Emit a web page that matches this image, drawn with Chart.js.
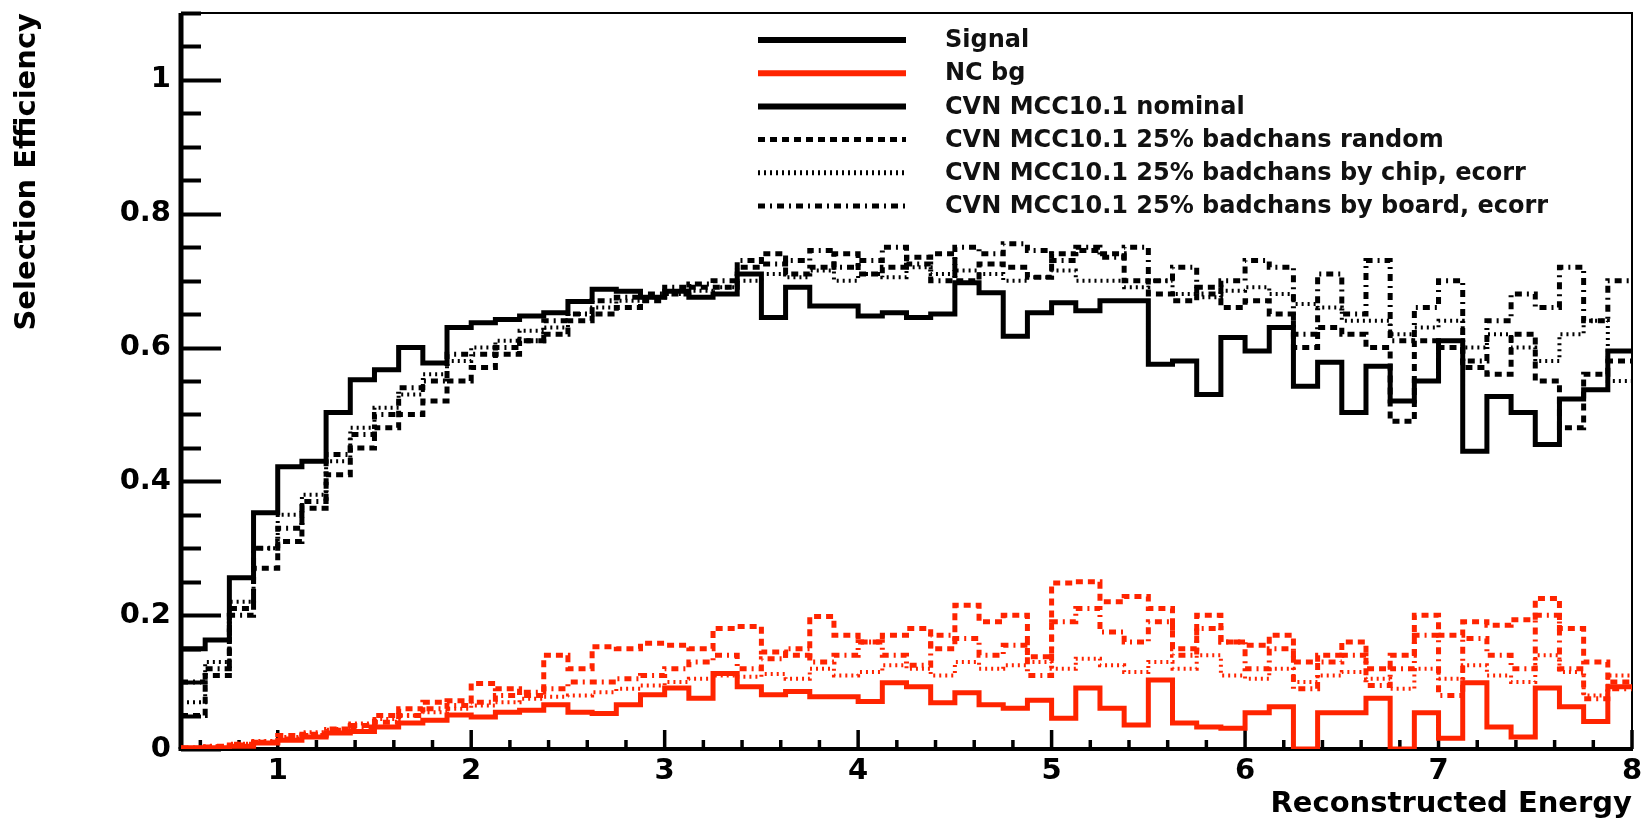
<!DOCTYPE html>
<html>
<head>
<meta charset="utf-8">
<title>Selection Efficiency</title>
<script src="https://cdn.jsdelivr.net/npm/chart.js@4.4.1/dist/chart.umd.min.js"></script>
<style>
    html, body { margin: 0; padding: 0; background: #fff; }
    #chart { display: block; }
</style>
</head>
<body>
<canvas id="chart" width="1648" height="825"></canvas>
<script>
// Binning of the histograms (reconstructed energy)
const binStart = 0.5;
const binWidth = 0.125;

// Axis ticks
const xTicks = [1, 2, 3, 4, 5, 6, 7, 8];
const yTicks = [0, 0.2, 0.4, 0.6, 0.8, 1];
const yTickLabels = ['0', '0.2', '0.4', '0.6', '0.8', '1'];
const xMinorStep = 0.2;
const yMinorStep = 0.05;

// Signal efficiency, one value per bin
const sigNominal = [
    0.150, 0.163, 0.256, 0.353, 0.422, 0.430, 0.503, 0.552, 0.567, 0.600,
    0.577, 0.630, 0.637, 0.642, 0.647, 0.652, 0.669, 0.687, 0.684, 0.675,
    0.684, 0.675, 0.680, 0.710, 0.645, 0.690, 0.662, 0.662, 0.647, 0.652,
    0.645, 0.650, 0.697, 0.682, 0.617, 0.652, 0.667, 0.655, 0.670, 0.670,
    0.575, 0.580, 0.530, 0.615, 0.595, 0.630, 0.542, 0.578, 0.503, 0.572,
    0.520, 0.550, 0.610, 0.445, 0.527, 0.503, 0.455, 0.523, 0.537, 0.595
];
const sigRandom = [
    0.050, 0.110, 0.210, 0.270, 0.310, 0.360, 0.410, 0.450, 0.480, 0.500,
    0.520, 0.550, 0.570, 0.590, 0.610, 0.620, 0.640, 0.650, 0.660, 0.670,
    0.680, 0.690, 0.690, 0.720, 0.740, 0.710, 0.720, 0.740, 0.710, 0.720,
    0.735, 0.740, 0.700, 0.725, 0.720, 0.705, 0.740, 0.745, 0.740, 0.700,
    0.680, 0.670, 0.690, 0.660, 0.670, 0.650, 0.600, 0.630, 0.620, 0.600,
    0.490, 0.610, 0.600, 0.570, 0.560, 0.620, 0.550, 0.480, 0.560, 0.580
];
const sigChip = [
    0.070, 0.130, 0.220, 0.300, 0.350, 0.380, 0.430, 0.480, 0.510, 0.530,
    0.560, 0.580, 0.600, 0.610, 0.625, 0.630, 0.650, 0.660, 0.670, 0.675,
    0.680, 0.685, 0.690, 0.700, 0.710, 0.705, 0.715, 0.700, 0.710, 0.705,
    0.720, 0.710, 0.715, 0.710, 0.700, 0.705, 0.715, 0.700, 0.700, 0.690,
    0.700, 0.680, 0.675, 0.685, 0.690, 0.680, 0.665, 0.660, 0.640, 0.640,
    0.620, 0.630, 0.640, 0.600, 0.620, 0.600, 0.580, 0.620, 0.640, 0.550
];
const sigBoard = [
    0.100, 0.120, 0.200, 0.300, 0.330, 0.370, 0.440, 0.470, 0.500, 0.540,
    0.550, 0.590, 0.590, 0.600, 0.610, 0.640, 0.650, 0.670, 0.675, 0.680,
    0.690, 0.695, 0.700, 0.730, 0.725, 0.730, 0.745, 0.720, 0.730, 0.750,
    0.725, 0.700, 0.750, 0.740, 0.755, 0.745, 0.730, 0.750, 0.735, 0.750,
    0.700, 0.720, 0.680, 0.700, 0.730, 0.720, 0.620, 0.710, 0.650, 0.730,
    0.610, 0.660, 0.700, 0.580, 0.640, 0.680, 0.660, 0.720, 0.640, 0.700
];

// NC background efficiency, one value per bin
const ncNominal = [
    0.002, 0.002, 0.004, 0.009, 0.013, 0.018, 0.024, 0.026, 0.033, 0.039,
    0.043, 0.051, 0.048, 0.055, 0.058, 0.066, 0.055, 0.053, 0.066, 0.081,
    0.091, 0.076, 0.113, 0.093, 0.081, 0.086, 0.078, 0.078, 0.071, 0.099,
    0.093, 0.069, 0.084, 0.066, 0.061, 0.073, 0.046, 0.091, 0.061, 0.036,
    0.103, 0.039, 0.033, 0.031, 0.054, 0.063, 0.000, 0.054, 0.054, 0.076,
    0.000, 0.054, 0.016, 0.099, 0.033, 0.018, 0.091, 0.063, 0.041, 0.093
];
const ncRandom = [
    0.001, 0.003, 0.006, 0.010, 0.020, 0.022, 0.030, 0.035, 0.050, 0.060,
    0.070, 0.072, 0.098, 0.090, 0.080, 0.140, 0.120, 0.153, 0.150, 0.158,
    0.155, 0.150, 0.180, 0.183, 0.145, 0.140, 0.198, 0.170, 0.160, 0.170,
    0.180, 0.150, 0.215, 0.190, 0.200, 0.138, 0.248, 0.250, 0.220, 0.228,
    0.210, 0.150, 0.200, 0.160, 0.155, 0.170, 0.130, 0.140, 0.160, 0.120,
    0.140, 0.200, 0.170, 0.190, 0.185, 0.193, 0.225, 0.180, 0.130, 0.100
];
const ncChip = [
    0.002, 0.004, 0.008, 0.012, 0.018, 0.025, 0.030, 0.038, 0.045, 0.050,
    0.055, 0.060, 0.065, 0.070, 0.075, 0.078, 0.080, 0.085, 0.090, 0.095,
    0.100, 0.105, 0.110, 0.108, 0.112, 0.105, 0.120, 0.110, 0.115, 0.125,
    0.120, 0.110, 0.130, 0.120, 0.125, 0.130, 0.120, 0.135, 0.125, 0.115,
    0.130, 0.120, 0.140, 0.110, 0.105, 0.120, 0.100, 0.110, 0.115, 0.105,
    0.090, 0.120, 0.105, 0.125, 0.110, 0.100, 0.140, 0.115, 0.080, 0.110
];
const ncBoard = [
    0.001, 0.004, 0.007, 0.010, 0.015, 0.020, 0.028, 0.033, 0.040, 0.050,
    0.060, 0.065, 0.070, 0.080, 0.085, 0.090, 0.100, 0.100, 0.105, 0.110,
    0.120, 0.130, 0.140, 0.120, 0.135, 0.150, 0.130, 0.140, 0.160, 0.140,
    0.125, 0.170, 0.165, 0.140, 0.155, 0.110, 0.190, 0.210, 0.175, 0.160,
    0.190, 0.140, 0.180, 0.160, 0.120, 0.150, 0.090, 0.130, 0.140, 0.095,
    0.120, 0.170, 0.080, 0.165, 0.140, 0.120, 0.200, 0.120, 0.075, 0.090
];

// Legend entries
const legendLabels = [
    'Signal',
    'NC bg',
    'CVN MCC10.1 nominal',
    'CVN MCC10.1 25% badchans random',
    'CVN MCC10.1 25% badchans by chip, ecorr',
    'CVN MCC10.1 25% badchans by board, ecorr'
];

// Colours and line styles
const BLACK = '#000000';
const RED = '#ff2400';
const DASH_SOLID = [];
const DASH_RANDOM = [7, 5];
const DASH_CHIP = [2, 4];
const DASH_BOARD = [7, 5, 2, 5];

const FONT_FAMILY = '"DejaVu Sans", "Liberation Sans", sans-serif';

// Turn bin contents into step points: one point per low edge plus the last edge
function toSteps(values) {
    const pts = values.map((v, i) => ({ x: binStart + i * binWidth, y: v }));
    pts.push({ x: binStart + values.length * binWidth, y: values[values.length - 1] });
    return pts;
}

function histDataset(label, values, color, dash, width, order) {
    return {
        label: label,
        data: toSteps(values),
        borderColor: color,
        backgroundColor: color,
        borderWidth: width,
        borderDash: dash,
        borderCapStyle: 'butt',
        borderJoinStyle: 'miter',
        stepped: 'before',
        pointRadius: 0,
        fill: false,
        order: order
    };
}

// Drop the automatic label padding so the plot frame sits where ROOT put it
function noScalePadding(s) {
    s.paddingTop = 0;
    s.paddingBottom = 0;
    s.paddingLeft = 0;
    s.paddingRight = 0;
}

// ROOT style frame: thick axes with inner ticks, thin top/right border
const rootFrame = {
    id: 'rootFrame',
    beforeDatasetsDraw(chart) {
        const { ctx, chartArea: a, scales: { x, y } } = chart;
        ctx.save();
        ctx.strokeStyle = BLACK;
        ctx.lineCap = 'butt';

        // thin top and right border
        ctx.lineWidth = 2;
        ctx.beginPath();
        ctx.moveTo(a.left, a.top);
        ctx.lineTo(a.right, a.top);
        ctx.lineTo(a.right, a.bottom);
        ctx.stroke();

        // y ticks
        ctx.lineWidth = 4;
        const nY = Math.round(y.max / yMinorStep);
        for (let k = 0; k <= nY; k++) {
            const v = k * yMinorStep;
            const py = Math.round(y.getPixelForValue(v)) + 0.5;
            const len = (k % 4 === 0) ? 40 : 20;
            ctx.beginPath();
            ctx.moveTo(a.left, py);
            ctx.lineTo(a.left + len, py);
            ctx.stroke();
        }

        // x ticks
        ctx.lineWidth = 3.5;
        const kFrom = Math.ceil(x.min / xMinorStep - 1e-6);
        const kTo = Math.floor(x.max / xMinorStep + 1e-6);
        for (let k = kFrom; k <= kTo; k++) {
            const v = k * xMinorStep;
            const px = x.getPixelForValue(v);
            const len = (k % 5 === 0) ? 19 : 9;
            ctx.beginPath();
            ctx.moveTo(px, a.bottom);
            ctx.lineTo(px, a.bottom - len);
            ctx.stroke();
        }

        // axes lines
        ctx.lineWidth = 5;
        ctx.beginPath();
        ctx.moveTo(a.left, a.top);
        ctx.lineTo(a.left, a.bottom);
        ctx.stroke();
        ctx.lineWidth = 4;
        ctx.beginPath();
        ctx.moveTo(a.left - 2.5, a.bottom);
        ctx.lineTo(a.right + 1, a.bottom);
        ctx.stroke();
        ctx.restore();
    }
};

// Legend drawn like a ROOT TLegend (no box)
const legendStyles = [
    { color: BLACK, dash: DASH_SOLID, width: 6 },
    { color: RED, dash: DASH_SOLID, width: 6 },
    { color: BLACK, dash: DASH_SOLID, width: 6 },
    { color: BLACK, dash: DASH_RANDOM, width: 5 },
    { color: BLACK, dash: DASH_CHIP, width: 5 },
    { color: BLACK, dash: DASH_BOARD, width: 5 }
];

const rootLegend = {
    id: 'rootLegend',
    afterDraw(chart) {
        const { ctx } = chart;
        const lineX0 = 758, lineX1 = 906, textX = 945;
        const rowTop = 40, rowStep = 33.2;
        ctx.save();
        ctx.font = 'bold 24px ' + FONT_FAMILY;
        ctx.textBaseline = 'middle';
        ctx.textAlign = 'left';
        legendLabels.forEach((label, i) => {
            const st = legendStyles[i];
            const yy = rowTop + i * rowStep;
            ctx.strokeStyle = st.color;
            ctx.lineWidth = st.width;
            ctx.setLineDash(st.dash);
            ctx.beginPath();
            ctx.moveTo(lineX0, yy);
            ctx.lineTo(lineX1, yy);
            ctx.stroke();
            ctx.setLineDash([]);
            ctx.fillStyle = '#111';
            ctx.fillText(label, textX, yy + 1);
        });
        ctx.restore();
    }
};

const ctx = document.getElementById('chart').getContext('2d');
const chart = new Chart(ctx, {
    type: 'line',
    data: {
        datasets: [
            histDataset('Signal nominal', sigNominal, BLACK, DASH_SOLID, 5, 0),
            histDataset('NC bg nominal', ncNominal, RED, DASH_SOLID, 5, 1),
            histDataset('Signal random', sigRandom, BLACK, DASH_RANDOM, 5, 2),
            histDataset('Signal chip', sigChip, BLACK, DASH_CHIP, 4, 2),
            histDataset('Signal board', sigBoard, BLACK, DASH_BOARD, 5, 2),
            histDataset('NC bg random', ncRandom, RED, DASH_RANDOM, 5, 3),
            histDataset('NC bg chip', ncChip, RED, DASH_CHIP, 4, 3),
            histDataset('NC bg board', ncBoard, RED, DASH_BOARD, 5, 3)
        ]
    },
    options: {
        responsive: false,
        animation: false,
        devicePixelRatio: 1,
        layout: { padding: { top: 13, right: 16, left: 0, bottom: 0 } },
        plugins: {
            legend: { display: false },
            tooltip: { enabled: false }
        },
        scales: {
            x: {
                type: 'linear',
                min: 0.5,
                max: 8,
                grid: { display: false, drawTicks: false },
                border: { display: false },
                afterBuildTicks: s => { s.ticks = xTicks.map(v => ({ value: v })); },
                afterFit: s => { s.height = 76; noScalePadding(s); },
                ticks: {
                    autoSkip: false,
                    maxRotation: 0,
                    padding: 5,
                    color: BLACK,
                    font: { family: FONT_FAMILY, size: 29, weight: 'bold' },
                    callback: v => String(v)
                },
                title: {
                    display: true,
                    text: 'Reconstructed Energy',
                    align: 'end',
                    color: BLACK,
                    font: { family: FONT_FAMILY, size: 29, weight: 'bold' },
                    padding: { top: 0, bottom: 3 }
                }
            },
            y: {
                type: 'linear',
                min: 0,
                max: 1.1,
                grid: { display: false, drawTicks: false },
                border: { display: false },
                afterBuildTicks: s => { s.ticks = yTicks.map(v => ({ value: v })); },
                afterFit: s => { s.width = 181; noScalePadding(s); },
                ticks: {
                    autoSkip: false,
                    padding: 10,
                    color: BLACK,
                    font: { family: FONT_FAMILY, size: 29, weight: 'bold' },
                    callback: (v, i) => yTickLabels[i]
                },
                title: {
                    display: true,
                    text: 'Selection Efficiency',
                    align: 'end',
                    color: BLACK,
                    font: { family: FONT_FAMILY, size: 29, weight: 'bold' },
                    padding: { top: 10, bottom: 0 }
                }
            }
        }
    },
    plugins: [rootFrame, rootLegend]
});
</script>
</body>
</html>
